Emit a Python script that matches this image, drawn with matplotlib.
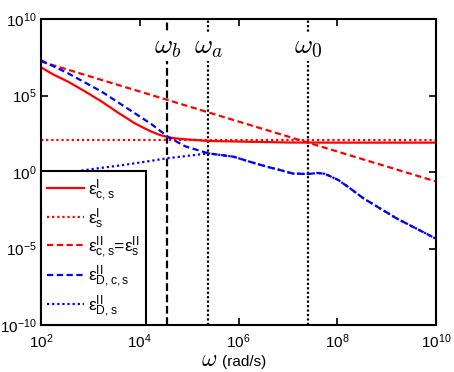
import matplotlib
matplotlib.use('Agg')
import matplotlib.pyplot as plt
import numpy as np

plt.rcParams['font.family'] = 'Liberation Sans'
plt.rcParams['mathtext.fontset'] = 'custom'
plt.rcParams['mathtext.rm'] = 'Liberation Sans'
plt.rcParams['mathtext.it'] = 'Liberation Sans:italic'
plt.rcParams['mathtext.bf'] = 'Liberation Sans:bold'

# values, as log10 exponents
# eps^I_{c,s}
w_cs_I = [2.0, 2.25, 2.55, 2.9, 3.23, 3.55, 3.90, 4.07, 4.24, 4.4, 4.58, 4.75, 4.92, 5.38, 6.17, 7.0, 8.0, 9.0, 10.0]
e_cs_I = [6.84, 6.37, 5.90, 5.25, 4.60, 3.90, 3.18, 2.90, 2.63, 2.43, 2.27, 2.19, 2.14, 2.03, 1.98, 1.93, 1.92, 1.92, 1.92]
# eps^I_s
w_s_I = [2.0, 10.0]
e_s_I = [2.09, 2.09]
# eps^II_{c,s} = eps^II_s
w_cs_II = [2.0, 10.0]
e_cs_II = [7.22, -0.62]
# eps^II_{D,c,s}
w_Dcs = [2.0, 2.55, 3.23, 3.90, 4.24, 4.58, 4.92, 5.39, 5.90, 6.23, 6.57, 6.84, 7.1, 7.42, 7.6, 7.75, 8.02, 8.26, 8.53, 9.2, 10.0]
e_Dcs = [7.30, 6.45, 5.25, 3.84, 3.12, 2.28, 1.68, 1.22, 1.00, 0.67, 0.35, 0.13, -0.10, -0.13, -0.06, -0.12, -0.52, -1.07, -1.72, -3.03, -4.36]
# eps^II_{D,s}
w_Ds = [2.0, 2.89, 3.67, 4.21, 4.55, 4.88, 5.39, 5.90, 6.23, 6.57, 6.84, 7.1, 7.42, 7.6, 7.75, 8.02, 8.26, 8.53, 9.2, 10.0]
e_Ds = [-0.30, 0.13, 0.46, 0.72, 0.90, 1.02, 1.22, 1.00, 0.67, 0.35, 0.13, -0.10, -0.13, -0.06, -0.12, -0.52, -1.07, -1.72, -3.03, -4.36]

# characteristic frequencies (rad/s)
w_b = 3.6e4
w_a = 2.45e5
w_0 = 2.6e7

fig = plt.figure(figsize=(4.54, 3.72), dpi=100)
ax = fig.add_axes([0.0903, 0.1263, 0.8701, 0.8226])

def p(a):
    return 10.0 ** np.array(a)

lw = 1.6
ax.axvline(w_b, color='k', lw=1.6, ls=(0, (3.5, 1.6)), zorder=1)
ax.axvline(w_a, color='k', lw=1.6, ls=(0, (1, 1)), zorder=1)
ax.axvline(w_0, color='k', lw=1.6, ls=(0, (1, 1)), zorder=1)

l1, = ax.plot(p(w_cs_I), p(e_cs_I), color='#ff0000', lw=lw, ls='-')
l2, = ax.plot(p(w_s_I), p(e_s_I), color='#ff0000', lw=lw, ls=(0, (1, 1.3)))
l3, = ax.plot(p(w_cs_II), p(e_cs_II), color='#ff0000', lw=lw, ls=(0, (2.8, 1.6)))
l5, = ax.plot(p(w_Ds), p(e_Ds), color='#0000ff', lw=lw, ls=(0, (1, 1.3)))
l4, = ax.plot(p(w_Dcs), p(e_Dcs), color='#0000ff', lw=lw, ls=(0, (2.8, 1.6)))

for wv, name in [(w_b, r'$\omega_b$'), (w_a, r'$\omega_a$'), (w_0, r'$\omega_0$')]:
    ax.text(wv, 0.889, name, transform=ax.get_xaxis_transform(), ha='center', va='baseline',
            fontsize=20, math_fontfamily='cm', zorder=3,
            bbox=dict(fc='white', ec='none', pad=1))

ax.set_xscale('log')
ax.set_yscale('log')
ax.set_xlim(1e2, 1e10)
ax.set_ylim(1e-10, 1e10)
ax.set_xticks([1e2, 1e4, 1e6, 1e8, 1e10])
ax.set_yticks([1e-10, 1e-5, 1e0, 1e5, 1e10])
ax.minorticks_off()
ax.tick_params(direction='in', top=True, right=True, length=5, width=1.2, labelsize=11)
ax.tick_params(axis='y', pad=3)
ax.tick_params(axis='x', pad=5)
for s in ax.spines.values():
    s.set_linewidth(1.5)

leg = ax.legend([l1, l2, l3, l4, l5],
                [r'$\mathrm{ε^{I}_{c,s}}$', r'$\mathrm{ε^{I}_{s}}$',
                 r'$\mathrm{ε^{II}_{c,s}}$=$\mathrm{ε^{II}_{s}}$',
                 r'$\mathrm{ε^{II}_{D,c,s}}$', r'$\mathrm{ε^{II}_{D,s}}$'],
                loc='lower left', borderaxespad=0, fancybox=False, framealpha=1,
                edgecolor='k', fontsize=12.5, handlelength=2.1, labelspacing=0.2,
                handletextpad=0.25, borderpad=0.35)
leg.get_frame().set_linewidth(1.5)
leg.set_zorder(5)

fig.text(217 / 454, 0.016, r'$\omega$', ha='right', va='baseline', fontsize=17, math_fontfamily='cm')
fig.text(222 / 454, 0.016, '(rad/s)', ha='left', va='baseline', fontsize=11)

fig.savefig('out.png', dpi=100)
